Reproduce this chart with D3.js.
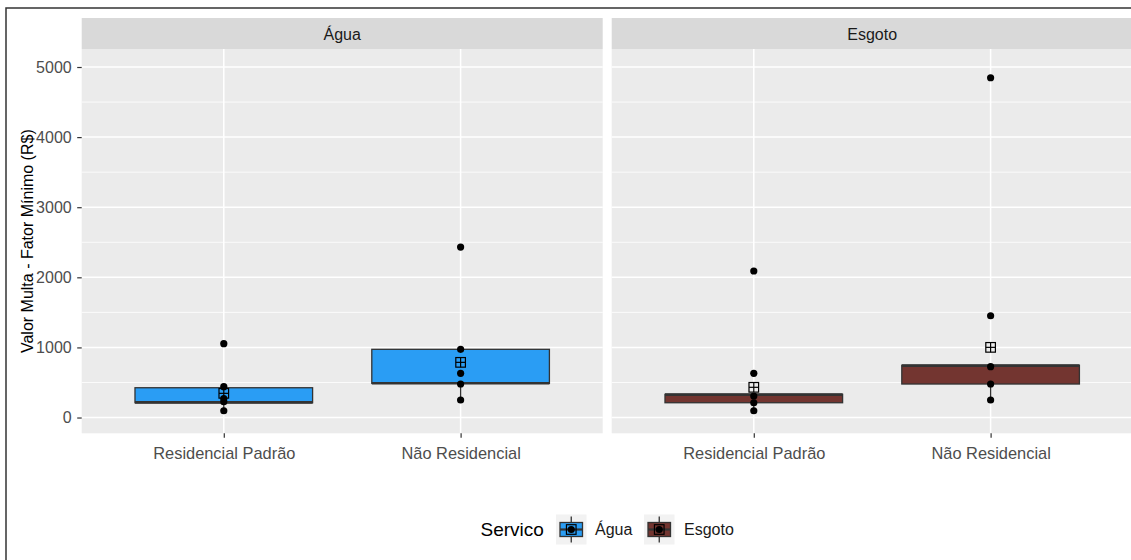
<!DOCTYPE html>
<html><head><meta charset="utf-8">
<script src="https://cdn.jsdelivr.net/npm/d3@7"></script>
<style>
html,body{margin:0;padding:0;background:#fff;}
svg{display:block;font-family:"Liberation Sans",Arial,sans-serif;}
</style></head>
<body><svg id="c" width="1131" height="560"></svg>
<script>
// ---- data ----
const panels = ["Água", "Esgoto"];
const categories = ["Residencial Padrão", "Não Residencial"];
const fills = ["#2A9DF4", "#733530"];
const yTicks = [0, 1000, 2000, 3000, 4000, 5000];
const yMinorTicks = [500, 1500, 2500, 3500, 4500];

const aguaQ1 = [211, 488];
const aguaMedian = [216, 490];
const aguaQ3 = [425, 973];
const aguaLow = [97, 250];
const aguaHigh = [440, 973];
const aguaMean = [345, 787];
const aguaPoints = [[97, 225, 270, 440, 1053], [250, 478, 631, 973, 2432]];

const esgotoQ1 = [211, 478];
const esgotoMedian = [327, 740];
const esgotoQ3 = [331, 745];
const esgotoLow = [97, 250];
const esgotoHigh = [331, 745];
const esgotoMean = [431, 1001];
const esgotoPoints = [[97, 211, 307, 630, 2090], [250, 478, 725, 1452, 4847]];

const stats = [
  {q1: aguaQ1, med: aguaMedian, q3: aguaQ3, lo: aguaLow, hi: aguaHigh, mean: aguaMean, pts: aguaPoints},
  {q1: esgotoQ1, med: esgotoMedian, q3: esgotoQ3, lo: esgotoLow, hi: esgotoHigh, mean: esgotoMean, pts: esgotoPoints}
];

// ---- layout ----
const svg = d3.select("#c");
const panelX0 = [81.7, 611.7];
const panelW = 521;
const pTop = 49, pBottom = 433.3, stripTop = 18;
const y = d3.scaleLinear().domain([-225, 5257]).range([pBottom, pTop]);

// outer border
svg.append("rect").attr("x", 6).attr("y", 8).attr("width", 1300).attr("height", 700)
  .attr("fill", "none").attr("stroke", "#333").attr("stroke-width", 1.5);

panels.forEach((p, pi) => {
  const x = d3.scalePoint().domain(categories).range([panelX0[pi], panelX0[pi] + panelW]).padding(0.6);
  const step = x.step();
  const g = svg.append("g");
  g.append("rect").attr("x", panelX0[pi]).attr("y", pTop).attr("width", panelW).attr("height", pBottom - pTop).attr("fill", "#EBEBEB");
  g.append("rect").attr("x", panelX0[pi]).attr("y", stripTop).attr("width", panelW).attr("height", pTop - stripTop).attr("fill", "#D9D9D9");
  g.append("text").attr("x", panelX0[pi] + panelW / 2).attr("y", (stripTop + pTop) / 2 + 0.5).attr("dy", "0.36em")
    .attr("text-anchor", "middle").attr("font-size", 16).attr("fill", "#1A1A1A").text(p);
  g.selectAll(".ymin").data(yMinorTicks).join("line")
    .attr("x1", panelX0[pi]).attr("x2", panelX0[pi] + panelW)
    .attr("y1", d => y(d)).attr("y2", d => y(d)).attr("stroke", "#fff").attr("stroke-width", 0.8);
  g.selectAll(".ymaj").data(yTicks).join("line")
    .attr("x1", panelX0[pi]).attr("x2", panelX0[pi] + panelW)
    .attr("y1", d => y(d)).attr("y2", d => y(d)).attr("stroke", "#fff").attr("stroke-width", 1.5);
  g.selectAll(".xmaj").data(categories).join("line")
    .attr("x1", d => x(d)).attr("x2", d => x(d)).attr("y1", pTop).attr("y2", pBottom)
    .attr("stroke", "#fff").attr("stroke-width", 1.5);

  const xa = svg.append("g").attr("transform", `translate(0,${pBottom})`)
    .call(d3.axisBottom(x).tickSize(4.5).tickPadding(9.5));
  xa.select(".domain").remove();
  xa.selectAll(".tick line").attr("stroke", "#333").attr("stroke-width", 1.2);
  xa.selectAll(".tick text").attr("font-size", 16.4).attr("fill", "#4D4D4D")
    .attr("font-family", "Liberation Sans, Arial, sans-serif");

  const s = stats[pi];
  const bw = step * 0.75;
  categories.forEach((c, ci) => {
    const cx = x(c);
    g.append("line").attr("x1", cx).attr("x2", cx).attr("y1", y(s.q1[ci])).attr("y2", y(s.lo[ci]))
      .attr("stroke", "#333").attr("stroke-width", 1.3);
    g.append("line").attr("x1", cx).attr("x2", cx).attr("y1", y(s.q3[ci])).attr("y2", y(s.hi[ci]))
      .attr("stroke", "#333").attr("stroke-width", 1.3);
    g.append("rect").attr("x", cx - bw / 2).attr("width", bw)
      .attr("y", y(s.q3[ci])).attr("height", y(s.q1[ci]) - y(s.q3[ci]))
      .attr("fill", fills[pi]).attr("stroke", "#333").attr("stroke-width", 1.3);
    g.append("line").attr("x1", cx - bw / 2).attr("x2", cx + bw / 2)
      .attr("y1", y(s.med[ci])).attr("y2", y(s.med[ci])).attr("stroke", "#333").attr("stroke-width", 2.6);
    g.selectAll(null).data(s.pts[ci]).join("circle")
      .attr("cx", cx).attr("cy", d => y(d)).attr("r", 3.6).attr("fill", "#000");
    const my = y(s.mean[ci]), h = 4.8;
    g.append("rect").attr("x", cx - h).attr("y", my - h).attr("width", 2 * h).attr("height", 2 * h)
      .attr("fill", "none").attr("stroke", "#000").attr("stroke-width", 1.2);
    g.append("line").attr("x1", cx - h).attr("x2", cx + h).attr("y1", my).attr("y2", my).attr("stroke", "#000").attr("stroke-width", 1.2);
    g.append("line").attr("x1", cx).attr("x2", cx).attr("y1", my - h).attr("y2", my + h).attr("stroke", "#000").attr("stroke-width", 1.2);
  });
});

const ya = svg.append("g").attr("transform", `translate(${panelX0[0]},0)`)
  .call(d3.axisLeft(y).tickValues(yTicks).tickFormat(d3.format("d")).tickSize(4.5).tickPadding(5.5));
ya.select(".domain").remove();
ya.selectAll(".tick line").attr("stroke", "#333").attr("stroke-width", 1.2);
ya.selectAll(".tick text").attr("font-size", 16).attr("fill", "#4D4D4D")
  .attr("font-family", "Liberation Sans, Arial, sans-serif");

svg.append("text").attr("transform", `translate(27,${(pTop + pBottom) / 2}) rotate(-90)`)
  .attr("text-anchor", "middle").attr("dy", "0.36em").attr("font-size", 16).attr("fill", "#000")
  .text("Valor Multa - Fator Mínimo (R$)");

const leg = svg.append("g");
const legY = 529.5;
leg.append("text").attr("x", 480.5).attr("y", legY).attr("dy", "0.36em").attr("font-size", 19).attr("fill", "#000").text("Servico");
const keyX = [556, 644], labX = [595, 684];
panels.forEach((p, i) => {
  const kx = keyX[i], kw = 30.5, ky = legY - 15, kh = 30;
  leg.append("rect").attr("x", kx).attr("y", ky).attr("width", kw).attr("height", kh).attr("fill", "#F2F2F2");
  const cx = kx + kw / 2;
  leg.append("line").attr("x1", cx).attr("x2", cx).attr("y1", ky + 2).attr("y2", ky + kh - 2).attr("stroke", "#333").attr("stroke-width", 1.3);
  leg.append("rect").attr("x", kx + 4).attr("y", ky + 8).attr("width", kw - 8).attr("height", kh - 16)
    .attr("fill", fills[i]).attr("stroke", "#333").attr("stroke-width", 1.3);
  leg.append("line").attr("x1", kx + 4).attr("x2", kx + kw - 4).attr("y1", ky + kh / 2).attr("y2", ky + kh / 2).attr("stroke", "#333").attr("stroke-width", 2.2);
  leg.append("circle").attr("cx", cx).attr("cy", ky + kh / 2).attr("r", 3.6).attr("fill", "#000");
  leg.append("rect").attr("x", cx - 4.8).attr("y", ky + kh / 2 - 4.8).attr("width", 9.6).attr("height", 9.6)
    .attr("fill", "none").attr("stroke", "#000").attr("stroke-width", 1.2);
  leg.append("text").attr("x", labX[i]).attr("y", legY).attr("dy", "0.36em").attr("font-size", 16).attr("fill", "#1A1A1A").text(p);
});
</script></body></html>
